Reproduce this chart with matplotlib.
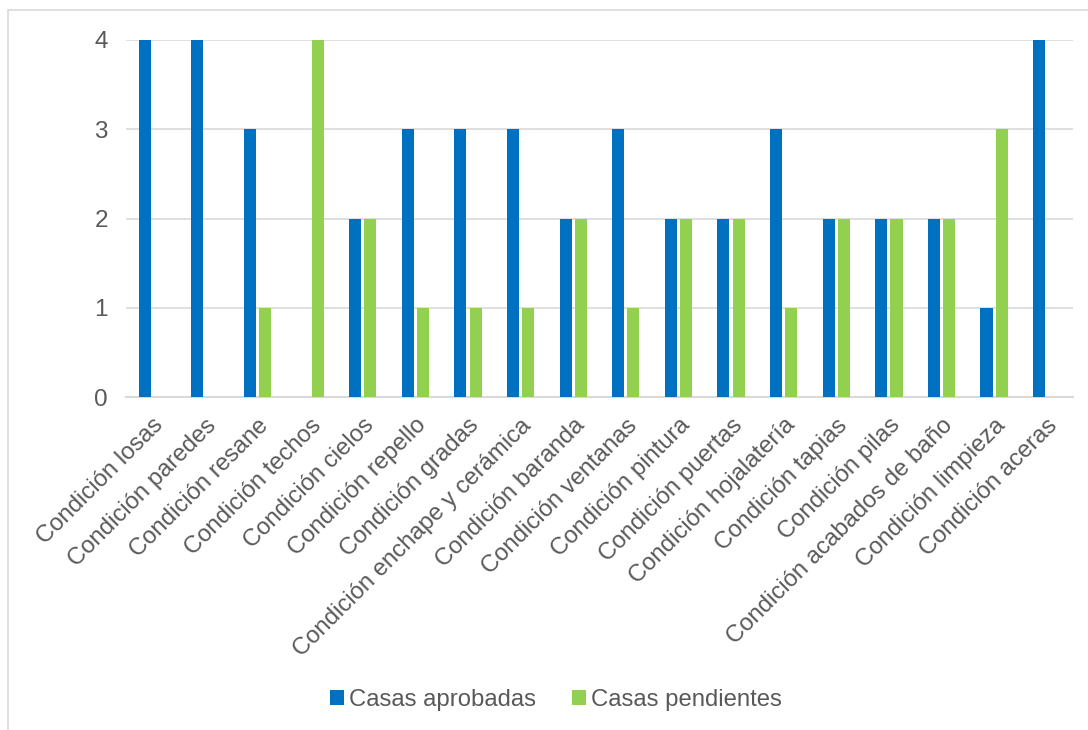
import numpy as np
import matplotlib
matplotlib.use("Agg")
import matplotlib.pyplot as plt
from matplotlib.patches import Rectangle

plt.rcParams['font.family'] = ['Liberation Sans', 'DejaVu Sans']

categorias = ['Condición losas', 'Condición paredes', 'Condición resane',
              'Condición techos', 'Condición cielos', 'Condición repello',
              'Condición gradas', 'Condición enchape y cerámica',
              'Condición baranda', 'Condición ventanas', 'Condición pintura',
              'Condición puertas', 'Condición hojalatería', 'Condición tapias',
              'Condición pilas', 'Condición acabados de baño',
              'Condición limpieza', 'Condición aceras']
aprobadas = [4, 4, 3, 0, 2, 3, 3, 3, 2, 3, 2, 2, 3, 2, 2, 2, 1, 4]
pendientes = [0, 0, 1, 4, 2, 1, 1, 1, 2, 1, 2, 2, 1, 2, 2, 2, 3, 0]
series = ['Casas aprobadas', 'Casas pendientes']

azul = '#0070C0'
verde = '#92D050'
gris = '#595959'

fig = plt.figure(figsize=(10.88, 7.3), dpi=100)
ax = fig.add_axes([126/1088, 1 - 397/730, (1073 - 126)/1088, (397 - 40)/730])

x = np.arange(len(categorias))
w = 0.23
ax.bar(x - 0.145, aprobadas, w, color=azul, label=series[0], zorder=3)
ax.bar(x + 0.145, pendientes, w, color=verde, label=series[1], zorder=3)

ax.set_xlim(-0.5, len(categorias) - 0.5)
ax.set_ylim(0, 4)
ax.set_yticks([0, 1, 2, 3, 4])
ax.yaxis.grid(True, color='#D9D9D9', linewidth=1.2, zorder=0)
for s in ['top', 'right', 'left']:
    ax.spines[s].set_visible(False)
ax.spines['bottom'].set_color('#D9D9D9')
ax.spines['bottom'].set_linewidth(1.5)
ax.tick_params(axis='both', length=0, colors=gris)
ax.tick_params(axis='y', labelsize=17.5, pad=13)
ax.set_xticks(x)
ax.set_xticklabels(categorias, rotation=45, ha='right', rotation_mode='anchor',
                   fontsize=17.2, color=gris)
for lbl in ax.get_xticklabels():
    lbl.set_y(-0.035)

leg = fig.legend(loc='center', bbox_to_anchor=(556/1088, 1 - 700/730), ncol=2,
                 frameon=False, fontsize=17.2, handlelength=0.6, handleheight=0.6,
                 handletextpad=0.2, columnspacing=1.5)
for t in leg.get_texts():
    t.set_color(gris)

fig.patches.append(Rectangle((8/1088, -0.05), 1.1, 1 - 10/730 + 0.05,
                             transform=fig.transFigure, fill=False,
                             edgecolor='#D9D9D9', linewidth=1.2))

fig.savefig('out.png', dpi=100)
